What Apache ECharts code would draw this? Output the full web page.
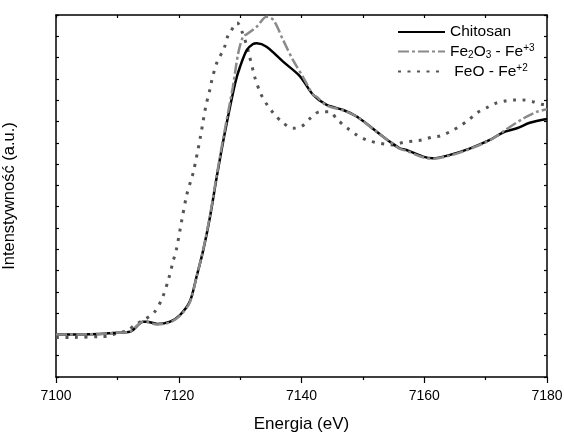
<!DOCTYPE html>
<html>
<head>
<meta charset="utf-8">
<script src="https://cdn.jsdelivr.net/npm/echarts@6/dist/echarts.min.js"></script>
<style>
html, body { margin: 0; padding: 0; background: #fff; }
#chart { width: 564px; height: 433px; }
</style>
</head>
<body>
<div id="chart"></div>
<script>
// energies (eV) and normalized intensities
var chitosanE = [7100, 7103.9, 7107.2, 7109.3, 7112.1, 7114.2, 7114.8, 7116.5, 7118.6, 7120.2, 7121.8, 7122.9, 7124.0, 7125.1, 7126.2, 7127.5, 7129.2, 7130.0, 7131.1, 7132.1, 7132.7, 7134.3, 7137.0, 7139.8, 7141.9, 7144.1, 7146.8, 7149.0, 7152.3, 7154.4, 7156.0, 7157.1, 7159.8, 7161.4, 7164.2, 7167.5, 7170.7, 7172.8, 7175.1, 7177.2, 7180];
var chitosanI = [0.0, 0.0, 0.002, 0.007, 0.013, 0.06, 0.06, 0.049, 0.06, 0.091, 0.154, 0.271, 0.397, 0.553, 0.741, 0.946, 1.181, 1.258, 1.336, 1.364, 1.367, 1.351, 1.281, 1.211, 1.125, 1.078, 1.054, 1.023, 0.951, 0.905, 0.874, 0.866, 0.835, 0.827, 0.843, 0.874, 0.913, 0.948, 0.968, 0.994, 1.012];

var fe2o3E = [7100, 7104, 7107, 7109.3, 7112, 7114.2, 7114.8, 7116.5, 7118.6, 7120.2, 7121.8, 7122.9, 7124, 7125.1, 7126.2, 7127.5, 7128.8, 7129.7, 7130.5, 7131.1, 7132.7, 7134.3, 7135.4, 7137.0, 7138.6, 7140.2, 7141.9, 7142.5, 7144.1, 7146.8, 7149, 7152.3, 7154.4, 7156, 7157.1, 7159.8, 7161.4, 7164.2, 7167.5, 7170.7, 7172.8, 7176.2, 7178.4, 7180];
var fe2o3I = [0.0, 0.0, 0.002, 0.007, 0.013, 0.06, 0.058, 0.047, 0.057, 0.088, 0.15, 0.27, 0.40, 0.56, 0.75, 0.96, 1.16, 1.322, 1.40, 1.41, 1.445, 1.492, 1.477, 1.383, 1.289, 1.211, 1.125, 1.115, 1.075, 1.052, 1.023, 0.95, 0.905, 0.872, 0.862, 0.832, 0.825, 0.84, 0.872, 0.912, 0.952, 1.015, 1.046, 1.057];

var feoE = [7100, 7103.1, 7107.2, 7108.5, 7110.1, 7111.6, 7113.0, 7114.5, 7116.1, 7117.4, 7118.4, 7119.1, 7119.6, 7120.5, 7121.3, 7122.0, 7122.4, 7123.5, 7124.4, 7125.1, 7125.4, 7126.2, 7127.4, 7128.0, 7128.5, 7129.5, 7130.3, 7131.0, 7131.4, 7132.4, 7133.3, 7134.2, 7135.4, 7137.0, 7138.6, 7140.0, 7141.5, 7143.0, 7144.5, 7145.9, 7147.5, 7149.0, 7150.6, 7152.1, 7153.6, 7155.0, 7156.5, 7158.2, 7159.6, 7161.2, 7162.6, 7164.2, 7165.5, 7167.1, 7168.6, 7170.2, 7171.7, 7173.2, 7174.6, 7176.1, 7177.7, 7179.1, 7180];
var feoI = [-0.014, -0.014, -0.01, -0.007, 0.007, 0.017, 0.048, 0.071, 0.107, 0.177, 0.266, 0.346, 0.397, 0.537, 0.655, 0.725, 0.764, 0.923, 1.07, 1.153, 1.195, 1.275, 1.345, 1.402, 1.425, 1.464, 1.422, 1.364, 1.322, 1.207, 1.134, 1.087, 1.04, 0.993, 0.968, 0.976, 1.017, 1.046, 1.046, 1.007, 0.968, 0.937, 0.913, 0.901, 0.894, 0.89, 0.901, 0.908, 0.913, 0.926, 0.932, 0.952, 0.973, 1.004, 1.041, 1.065, 1.086, 1.096, 1.101, 1.101, 1.093, 1.081, 1.078];

var seriesNames = ['Chitosan', 'Fe2O3 - Fe+3', 'FeO - Fe+2'];

function pairs(xs, ys) {
    return xs.map(function (x, i) { return [x, ys[i]] })
}

var font = 'Liberation Sans, Arial, sans-serif'
var chart = echarts.init(document.getElementById('chart'))

chart.setOption({
    animation: false,
    textStyle: { fontFamily: font },
    grid: { left: 56, right: 17, top: 15, bottom: 56, outerBoundsMode: 'none', containLabel: false },
    legend: {
        left: 392,
        top: 19,
        orient: 'vertical',
        itemWidth: 47,
        itemHeight: 14,
        itemGap: 3,
        data: seriesNames,
        itemStyle: { opacity: 0 },
        formatter: function (name) {
            if (name === seriesNames[1]) return '{n|Fe}{sb|2}{n|O}{sb|3}{n| - Fe}{sp|+3}'
            if (name === seriesNames[2]) return '{n| FeO - Fe}{sp|+2}'
            return '{n|' + name + '}'
        },
        textStyle: {
            color: '#000',
            fontFamily: font,
            rich: {
                n: { fontSize: 15.5, fontFamily: font, color: '#000', lineHeight: 17 },
                sb: { fontSize: 10, fontFamily: font, color: '#000', lineHeight: 4, verticalAlign: 'bottom' },
                sp: { fontSize: 10, fontFamily: font, color: '#000', lineHeight: 17, verticalAlign: 'top', padding: [0, 0, 7, 0] }
            }
        }
    },
    xAxis: [{
        type: 'value',
        min: 7100,
        max: 7180,
        interval: 20,
        name: 'Energia (eV)',
        nameLocation: 'middle',
        nameGap: 39,
        nameTextStyle: { fontSize: 17, color: '#000', fontFamily: font },
        axisLine: { onZero: false, lineStyle: { color: '#000', width: 1.5 } },
        axisTick: { inside: false, length: 6, lineStyle: { color: '#000', width: 1.2 } },
        minorTick: { show: true, splitNumber: 2, length: 3, lineStyle: { color: '#000', width: 1.2 } },
        axisLabel: { fontSize: 14, color: '#000', margin: 12, fontFamily: font, formatter: function (v) { return String(v) } },
        splitLine: { show: false }
    }, {
        type: 'value',
        position: 'top',
        min: 7100,
        max: 7180,
        interval: 10,
        axisLine: { onZero: false, lineStyle: { color: '#000', width: 1.5 } },
        axisTick: { inside: true, length: 3, lineStyle: { color: '#000', width: 1.2 } },
        axisLabel: { show: false },
        splitLine: { show: false }
    }],
    yAxis: [{
        type: 'value',
        min: -0.2,
        max: 1.5,
        interval: 0.1,
        name: 'Intenstywność (a.u.)',
        nameLocation: 'middle',
        nameRotate: 90,
        nameGap: 38,
        nameTextStyle: { fontSize: 16.5, color: '#000', fontFamily: font },
        axisLine: { show: true, onZero: false, lineStyle: { color: '#000', width: 1.5 } },
        axisTick: { show: true, inside: true, length: 3, lineStyle: { color: '#000', width: 1.2 } },
        axisLabel: { show: false },
        splitLine: { show: false }
    }, {
        type: 'value',
        position: 'right',
        min: -0.2,
        max: 1.5,
        interval: 0.1,
        axisLine: { show: true, onZero: false, lineStyle: { color: '#000', width: 1.5 } },
        axisTick: { show: true, inside: true, length: 3, lineStyle: { color: '#000', width: 1.2 } },
        axisLabel: { show: false },
        splitLine: { show: false }
    }],
    series: [{
        name: seriesNames[0],
        type: 'line',
        data: pairs(chitosanE, chitosanI),
        smooth: 0.3,
        symbol: 'none',
        z: 3,
        itemStyle: { color: '#000' },
        lineStyle: { color: '#000', width: 2.5 }
    }, {
        name: seriesNames[1],
        type: 'line',
        data: pairs(fe2o3E, fe2o3I),
        smooth: 0.3,
        symbol: 'none',
        z: 4,
        itemStyle: { color: '#8a8a8a' },
        lineStyle: { color: '#8a8a8a', width: 2.5, type: [11, 3, 3, 3] }
    }, {
        name: seriesNames[2],
        type: 'line',
        data: pairs(feoE, feoI),
        smooth: 0.3,
        symbol: 'none',
        z: 2,
        itemStyle: { color: '#555' },
        lineStyle: { color: '#555', width: 3, type: [3, 6.5], cap: 'butt' }
    }]
})
</script>
</body>
</html>
